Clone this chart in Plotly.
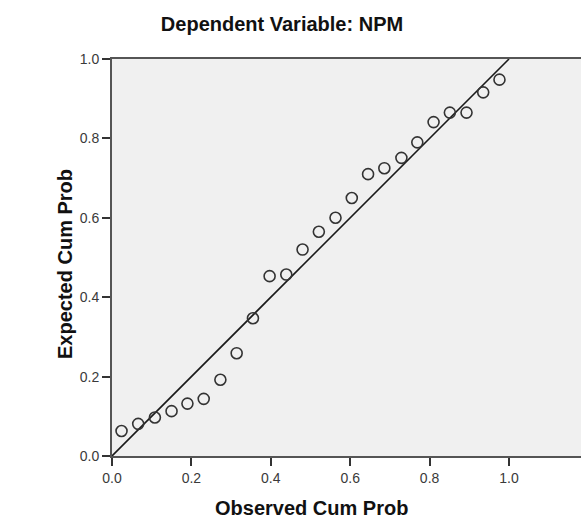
import plotly.graph_objects as go

# Observed vs expected cumulative probabilities
observed = [0.024, 0.066, 0.108, 0.150, 0.190, 0.231, 0.273, 0.314, 0.355, 0.397,
            0.439, 0.480, 0.521, 0.563, 0.604, 0.645, 0.686, 0.729, 0.769, 0.810,
            0.851, 0.893, 0.935, 0.976]
expected = [0.063, 0.081, 0.097, 0.113, 0.132, 0.144, 0.192, 0.259, 0.347, 0.453,
            0.457, 0.520, 0.565, 0.600, 0.650, 0.710, 0.725, 0.751, 0.790, 0.841,
            0.865, 0.865, 0.916, 0.948]
ref_x = [0.0, 1.0]
ref_y = [0.0, 1.0]
tick_vals = [0.0, 0.2, 0.4, 0.6, 0.8, 1.0]
tick_text = ["0.0", "0.2", "0.4", "0.6", "0.8", "1.0"]

W, H = 581, 518
L, R, T, B = 112, 0, 59, 62

fig = go.Figure()
fig.add_trace(go.Scatter(x=ref_x, y=ref_y, mode="lines",
                         line=dict(color="#1a1a1a", width=1.6),
                         hoverinfo="skip", showlegend=False))
fig.add_trace(go.Scatter(x=observed, y=expected, mode="markers",
                         marker=dict(symbol="circle-open", size=11,
                                     color="#333333", line=dict(width=1.6, color="#333333")),
                         showlegend=False))

font_family = "Liberation Sans, Arial, sans-serif"
fig.update_layout(
    width=W, height=H,
    margin=dict(l=L, r=R, t=T, b=B, autoexpand=False),
    paper_bgcolor="white",
    plot_bgcolor="#F0F0F0",
    font=dict(family=font_family, color="#333333"),
    title=dict(text="Dependent Variable: NPM", xref="container", yref="container",
               x=282 / W, y=1 - 24 / H, xanchor="center", yanchor="middle",
               font=dict(size=20, family=font_family, color="#111111", weight="bold")),
    xaxis=dict(range=[0, (W - L - R) / 397.0], tickvals=tick_vals, ticktext=tick_text,
               showgrid=False, zeroline=False, showline=True, linecolor="#555555",
               linewidth=2, mirror=True, ticks="outside", ticklen=8, tickwidth=1.5,
               tickcolor="#333333", tickfont=dict(size=14, color="#3a3a3a")),
    yaxis=dict(range=[0, 1], tickvals=tick_vals, ticktext=tick_text,
               showgrid=False, zeroline=False, showline=True, linecolor="#555555",
               linewidth=2, ticks="outside", ticklen=8, tickwidth=1.5,
               tickcolor="#333333", tickfont=dict(size=14, color="#3a3a3a")),
    annotations=[
        dict(text="<b>Observed Cum Prob</b>", xref="paper", yref="paper",
             x=(311 - L) / (W - L - R), y=(456 - 508) / (H - T - B),
             xanchor="center", yanchor="middle", showarrow=False,
             font=dict(size=20, family=font_family, color="#111111")),
        dict(text="<b>Expected Cum Prob</b>", xref="paper", yref="paper",
             x=(65 - L) / (W - L - R), y=(456 - 264) / (H - T - B),
             xanchor="center", yanchor="middle", showarrow=False, textangle=-90,
             font=dict(size=20, family=font_family, color="#111111")),
    ],
)

fig.write_html("out.html", config={"displayModeBar": False},
               post_script="document.body.style.margin='0';document.body.style.overflow='hidden';")
